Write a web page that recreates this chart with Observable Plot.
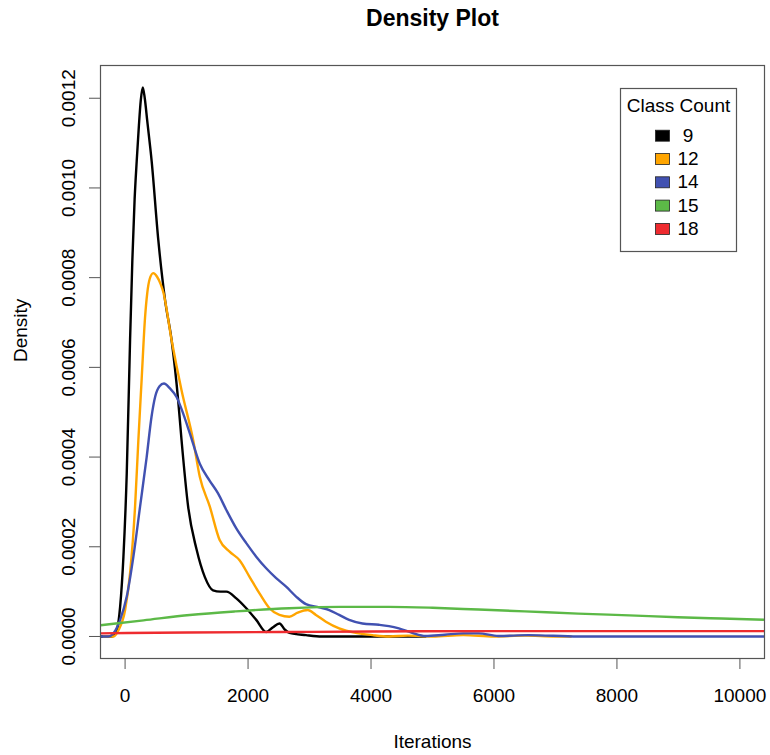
<!DOCTYPE html>
<html>
<head>
<meta charset="utf-8">
<script src="https://cdn.jsdelivr.net/npm/d3@7"></script>
<script src="https://cdn.jsdelivr.net/npm/@observablehq/plot@0.6"></script>
<style>
  html, body { margin: 0; padding: 0; background: #fff; }
  #chart { width: 770px; height: 755px; }
</style>
</head>
<body>
<div id="chart"></div>
<script>
// ---- data ----
const classes = ["9", "12", "14", "15", "18"];
const colors = ["#000000", "#FFA500", "#4151B1", "#5CB947", "#EE2B2F"];
const xTicks = [0, 2000, 4000, 6000, 8000, 10000];
const yTicks = [0, 0.0002, 0.0004, 0.0006, 0.0008, 0.0010, 0.0012];

const class9 = [
  [-400, 0], [-216, 0], [-135, 0.000014], [-81, 0.000066], [-27, 0.000178], [27, 0.000364],
  [81, 0.000661], [118, 0.000839], [155, 0.000975], [189, 0.00106], [225, 0.00114], [255, 0.001195],
  [287, 0.001224], [320, 0.0012], [360, 0.00115], [432, 0.00106], [540, 0.000884], [650, 0.00075], [756, 0.000661],
  [863, 0.000527], [918, 0.000438], [1026, 0.000289], [1161, 0.000195], [1296, 0.000133],
  [1430, 0.000103], [1550, 0.0001], [1647, 0.0001], [1809, 0.000085], [1971, 0.000063],
  [2133, 0.000037], [2295, 0.00001], [2400, 0.00002], [2511, 0.000029], [2600, 0.000015],
  [2672, 0.000008], [2942, 0.000003], [3200, 0], [4000, 0], [4886, 0]
];
const class12 = [
  [-350, 0], [-189, 0], [-108, 0.000014], [0, 0.000059], [81, 0.000141], [162, 0.000289],
  [216, 0.000438], [270, 0.000575], [324, 0.00071], [360, 0.000765], [400, 0.000797], [458, 0.00081],
  [520, 0.000802], [580, 0.000785], [621, 0.000768], [756, 0.000661], [918, 0.000549], [1107, 0.000438],
  [1215, 0.000356], [1377, 0.00029], [1538, 0.000215], [1700, 0.000189],
  [1862, 0.00017], [2024, 0.000133], [2186, 0.000096], [2348, 0.000063], [2510, 0.000048],
  [2672, 0.000044], [2807, 0.000053], [2969, 0.000059], [3104, 0.000048], [3266, 0.000033],
  [3482, 0.000018], [3752, 0.000008], [4023, 0.000003], [4293, 0], [4600, 0.000002],
  [5000, 0], [5500, 0.000003], [6000, 0], [6500, 0.000002], [7000, 0], [7250, 0]
];
const class14 = [
  [-400, 0], [-270, 0], [-189, 0.000007], [-81, 0.000037], [27, 0.000089], [135, 0.000178],
  [243, 0.000289], [351, 0.0004], [430, 0.00049], [490, 0.000535], [560, 0.000558], [632, 0.000564], [730, 0.000553],
  [837, 0.000534], [945, 0.000497], [1053, 0.000453], [1215, 0.000385], [1377, 0.000347],
  [1512, 0.000319], [1647, 0.000282], [1809, 0.000241], [1971, 0.000208], [2133, 0.000178],
  [2295, 0.000152], [2457, 0.00013], [2619, 0.000111], [2781, 0.000089], [2942, 0.000072],
  [3158, 0.000065], [3320, 0.000059], [3482, 0.000048], [3644, 0.000037], [3860, 0.000029],
  [4130, 0.000026], [4291, 0.000023], [4453, 0.000018], [4669, 0.000008], [4886, 0.000001],
  [5200, 0.000004], [5500, 0.000007], [5750, 0.000007], [6073, 0.000001], [6559, 0.000003],
  [7368, 0], [10500, 0]
];
const class15 = [
  [-400, 0.000025], [300, 0.000036], [1053, 0.000048], [1800, 0.000056], [2672, 0.000063],
  [3500, 0.000066], [4291, 0.000066], [5000, 0.000064], [5749, 0.00006], [6500, 0.000056],
  [7368, 0.000051], [8200, 0.000047], [8988, 0.000043], [9700, 0.00004], [10500, 0.000037]
];
const class18 = [
  [-400, 0.000007], [1000, 0.000009], [2500, 0.00001], [4000, 0.000011], [6000, 0.000012],
  [8000, 0.000012], [10500, 0.000012]
];

const seriesList = [class9, class12, class14, class15, class18];
const rows = seriesList.flatMap((s, i) => s.map(([x, y]) => ({cls: classes[i], x, y})));

const FONT = "'Liberation Sans', Arial, Helvetica, sans-serif";

const plot = Plot.plot({
  width: 770,
  height: 755,
  marginLeft: 100,
  marginRight: 6,
  marginTop: 65,
  marginBottom: 97,
  style: {fontFamily: FONT, fontSize: "19px", background: "#fff", color: "#000"},
  x: {domain: [-400, 10400]},
  y: {domain: [-0.0000491, 0.001273]},
  color: {domain: classes, range: colors},
  marks: [
    Plot.line(rows, {x: "x", y: "y", z: "cls", stroke: "cls", strokeWidth: 2.4, curve: "monotone-x", clip: true}),
    Plot.frame({stroke: "#555", strokeWidth: 1.2}),
    Plot.axisX({ticks: xTicks, tickSize: 11, tickPadding: 19, tickFormat: d => String(d), label: null, fontSize: 19, stroke: "#555"}),
    Plot.axisY({ticks: yTicks, tickSize: 11, tickPadding: 15, tickRotate: -90, tickFormat: d => d.toFixed(4), label: null, fontSize: 19, stroke: "#555"}),
    Plot.text(["Density Plot"], {frameAnchor: "top", dy: -56, fontSize: 23, fontWeight: "bold"}),
    Plot.text(["Iterations"], {frameAnchor: "bottom", dy: 89, fontSize: 19}),
    Plot.text(["Density"], {frameAnchor: "left", dx: -80, rotate: -90, fontSize: 19})
  ]
});

// ---- legend ----
const svg = d3.select(plot);
const color = plot.scale("color");
const lg = svg.append("g").attr("font-family", FONT).attr("font-size", 19);
lg.append("rect").attr("x", 620.5).attr("y", 88.5).attr("width", 116).attr("height", 163)
  .attr("fill", "#fff").attr("stroke", "#555").attr("stroke-width", 1.2);
lg.append("text").attr("x", 678.5).attr("y", 111.5).attr("text-anchor", "middle").text("Class Count");
classes.forEach((c, i) => {
  const base = 141.7 + i * 23.3;
  lg.append("rect").attr("x", 655.5).attr("y", base - 11.5).attr("width", 14).attr("height", 11)
    .attr("fill", color.apply(c)).attr("stroke", "#222").attr("stroke-width", 0.8);
  lg.append("text").attr("x", 688).attr("y", base).text(c);
});

document.getElementById("chart").appendChild(plot);
</script>
</body>
</html>
